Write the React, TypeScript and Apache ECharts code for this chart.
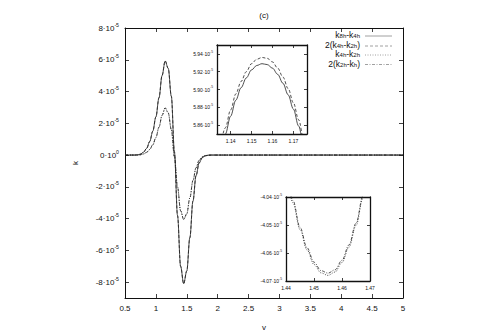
import React, { useEffect, useRef } from 'react';
import * as echarts from 'echarts';

// ---- main panel data (k in units of 1e-5) ----
const vMain = [0.5, 0.55, 0.6, 0.65, 0.7, 0.75, 0.8, 0.85, 0.9, 0.95, 1.0, 1.05, 1.1, 1.15, 1.2, 1.25, 1.3, 1.35, 1.4, 1.45, 1.5, 1.55, 1.6, 1.65, 1.7, 1.75, 1.8, 1.85, 1.9, 1.95, 2.0, 2.5, 3, 3.5, 4, 4.5, 5];
const k8hMinusK4h = [0, 0, 0, 0, 0.01, 0.06, 0.18, 0.42, 0.85, 1.5, 2.4, 3.6, 5.0, 5.92, 5.45, 3.7, 0.2, -3.8, -7.0, -8.1, -7.3, -5.2, -2.9, -1.3, -0.5, -0.17, -0.05, -0.01, 0, 0, 0, 0, 0, 0, 0, 0, 0];
const twoK4hMinusK2h = [0, 0, 0, 0, 0.01, 0.06, 0.18, 0.42, 0.85, 1.5, 2.4, 3.61, 5.01, 5.93, 5.46, 3.7, 0.2, -3.8, -7.0, -8.1, -7.3, -5.2, -2.9, -1.3, -0.5, -0.17, -0.05, -0.01, 0, 0, 0, 0, 0, 0, 0, 0, 0];
const k4hMinusK2h = [0, 0, 0, 0, 0, 0.02, 0.07, 0.17, 0.35, 0.65, 1.1, 1.75, 2.5, 2.97, 2.65, 1.6, -0.1, -2.0, -3.5, -4.06, -3.7, -2.7, -1.6, -0.8, -0.33, -0.12, -0.03, -0.01, 0, 0, 0, 0, 0, 0, 0, 0, 0];
const twoK2hMinusKh = [0, 0, 0, 0, 0, 0.02, 0.07, 0.17, 0.35, 0.65, 1.1, 1.75, 2.5, 2.97, 2.65, 1.6, -0.1, -2.0, -3.5, -4.06, -3.7, -2.7, -1.6, -0.8, -0.33, -0.12, -0.03, -0.01, 0, 0, 0, 0, 0, 0, 0, 0, 0];

const mainXTicks = [0.5, 1, 1.5, 2, 2.5, 3, 3.5, 4, 4.5, 5];
const mainYTicks = [-8, -6, -4, -2, 0, 2, 4, 6, 8];

// ---- inset 1 (peak) ----
const vInset1 = [1.135, 1.1375, 1.14, 1.1425, 1.145, 1.1475, 1.15, 1.1525, 1.155, 1.1575, 1.16, 1.1625, 1.165, 1.1675, 1.17, 1.1725, 1.175, 1.1775];
const ins1K8hMinusK4h = [5.827, 5.85, 5.87, 5.888, 5.902, 5.913, 5.922, 5.927, 5.929, 5.928, 5.924, 5.917, 5.907, 5.894, 5.878, 5.859, 5.836, 5.811];
const ins1TwoK4hMinusK2h = [5.834, 5.857, 5.877, 5.895, 5.909, 5.92, 5.929, 5.934, 5.936, 5.935, 5.931, 5.924, 5.914, 5.901, 5.885, 5.866, 5.843, 5.818];
const ins1XTicks = [1.14, 1.15, 1.16, 1.17];
const ins1YTicks = [5.86, 5.88, 5.9, 5.92, 5.94];

// ---- inset 2 (trough) ----
const vInset2 = [1.44, 1.4425, 1.445, 1.4475, 1.45, 1.4525, 1.455, 1.4575, 1.46, 1.4625, 1.465, 1.4675, 1.47];
const ins2K4hMinusK2h = [-4.0305, -4.0421, -4.0516, -4.0589, -4.0641, -4.0671, -4.068, -4.0668, -4.0634, -4.0579, -4.0502, -4.0404, -4.0285];
const ins2TwoK2hMinusKh = [-4.0297, -4.0413, -4.0508, -4.0581, -4.0633, -4.0663, -4.0672, -4.066, -4.0626, -4.0571, -4.0494, -4.0396, -4.0277];
const ins2XTicks = [1.44, 1.45, 1.46, 1.47];
const ins2YTicks = [-4.07, -4.06, -4.05, -4.04];

const FONT = 'Liberation Sans, Arial, Helvetica, sans-serif';
const INK = '#111';

const DASH = {
  solid: undefined as any,
  dashed: [3, 2],
  dotted: [1, 1.5],
  dashdot: [3, 1.5, 1, 1.5],
};

const pairs = (xs: number[], ys: number[]) => xs.map((x, i) => [x, ys[i]]);

function makeAxes(grid: number, xr: [number, number], yr: [number, number], xt: number[], yt: number[],
  fx: (v: number) => string, fy: (v: number) => string, fs: number, tickLen: number, lw: number, margin: number, extraX: any = {}, extraY: any = {}) {
  const line = { show: true, onZero: false, lineStyle: { color: INK, width: lw } };
  const tick = (vals: number[]) => ({ show: true, inside: true, length: tickLen, customValues: vals, lineStyle: { color: INK, width: 0.8 } });
  const rich = {
    m: { fontSize: fs, lineHeight: fs * 1.5, fontFamily: FONT, color: INK },
    s: { fontSize: fs * 0.65, lineHeight: fs * 0.65, verticalAlign: 'top', fontFamily: FONT, color: INK },
  };
  const xs = [
    { type: 'value', gridIndex: grid, position: 'bottom', min: xr[0], max: xr[1], axisLine: line, axisTick: tick(xt), splitLine: { show: false },
      axisLabel: { show: true, customValues: xt, formatter: fx, fontSize: fs, fontFamily: FONT, color: INK, margin }, ...extraX },
    { type: 'value', gridIndex: grid, position: 'top', min: xr[0], max: xr[1], axisLine: line, axisTick: tick(xt), splitLine: { show: false }, axisLabel: { show: false } },
  ];
  const ys = [
    { type: 'value', gridIndex: grid, position: 'left', min: yr[0], max: yr[1], axisLine: line, axisTick: tick(yt), splitLine: { show: false },
      axisLabel: { show: true, customValues: yt, formatter: fy, rich, margin }, ...extraY },
    { type: 'value', gridIndex: grid, position: 'right', min: yr[0], max: yr[1], axisLine: line, axisTick: tick(yt), splitLine: { show: false }, axisLabel: { show: false } },
  ];
  return { xs, ys };
}

function lineSeries(name: string, data: number[][], xi: number, yi: number, dash: any, width = 0.8, smooth: any = 0.35) {
  return {
    type: 'line', name, data, xAxisIndex: xi, yAxisIndex: yi, showSymbol: false, symbol: 'none', smooth, smoothMonotone: 'x',
    clip: true, lineStyle: { color: '#222', width, type: dash ? dash : 'solid' }, silent: true,
  };
}

const legendNames = [
  '{t|k}{b|8h}{t|-k}{b|4h}',
  '{t|2(k}{b|4h}{t|-k}{b|2h}{t|)}',
  '{t|k}{b|4h}{t|-k}{b|2h}',
  '{t|2(k}{b|2h}{t|-k}{b|h}{t|)}',
];
const legendDash = [DASH.solid, DASH.dashed, DASH.dotted, DASH.dashdot];

export default function App() {
  const ref = useRef<HTMLDivElement>(null);
  useEffect(() => {
    if (!ref.current) return;
    const chart = echarts.init(ref.current, undefined, { renderer: 'svg' });

    const main = makeAxes(0, [0.5, 5], [-9, 8], mainXTicks, mainYTicks,
      (v) => String(v), (v) => (v === 0 ? '{m|0·10}{s|0}' : `{m|${v}·10}{s|-5}`), 8, 4, 1, 6,
      { name: 'v', nameLocation: 'middle', nameGap: 25, nameTextStyle: { fontSize: 8, fontFamily: FONT, color: INK } },
      { name: 'k', nameLocation: 'middle', nameGap: 46, nameRotate: 90, nameTextStyle: { fontSize: 8, fontFamily: FONT, color: INK } });
    const in1 = makeAxes(1, [1.1335, 1.1765], [5.85, 5.95], ins1XTicks, ins1YTicks,
      (v) => v.toFixed(2), (v) => `{m|${v.toFixed(2)}·10}{s|-5}`, 5, 3, 1.3, 4);
    const in2 = makeAxes(2, [1.44, 1.47], [-4.07, -4.04], ins2XTicks, ins2YTicks,
      (v) => v.toFixed(2), (v) => `{m|${v.toFixed(2)}·10}{s|-5}`, 5, 3, 1.3, 4);

    const legendY = [35, 45, 54, 63.5];
    const graphic: any[] = [
      { type: 'text', x: 264, y: 15, style: { text: '(c)', fontSize: 8, fontFamily: FONT, fill: INK, align: 'center', verticalAlign: 'middle' } },
    ];
    legendNames.forEach((t, i) => {
      graphic.push({ type: 'text', x: 360, y: legendY[i], style: {
        text: t, align: 'right', verticalAlign: 'middle', fill: INK,
        rich: {
          t: { fontSize: 8.5, lineHeight: 8, fontFamily: FONT, fill: INK },
          b: { fontSize: 6, lineHeight: 1, verticalAlign: 'bottom', fontFamily: FONT, fill: INK },
        } } });
      graphic.push({ type: 'line', shape: { x1: 365, y1: legendY[i] + 1, x2: 392, y2: legendY[i] + 1 },
        style: { stroke: '#888', lineWidth: 0.8, lineDash: legendDash[i] || null } });
    });

    chart.setOption({
      animation: false,
      backgroundColor: '#fff',
      grid: [
        { left: 125, top: 28, width: 278, height: 278, containLabel: false },
        { left: 217, top: 45, width: 90, height: 89, show: true, backgroundColor: '#fff', borderWidth: 0 },
        { left: 286, top: 197, width: 84, height: 84, show: true, backgroundColor: '#fff', borderWidth: 0 },
      ],
      xAxis: [...main.xs, ...in1.xs, ...in2.xs],
      yAxis: [...main.ys, ...in1.ys, ...in2.ys],
      series: [
        lineSeries('k8h-k4h', pairs(vMain, k8hMinusK4h), 0, 0, DASH.solid),
        lineSeries('2(k4h-k2h)', pairs(vMain, twoK4hMinusK2h), 0, 0, DASH.dashed),
        lineSeries('k4h-k2h', pairs(vMain, k4hMinusK2h), 0, 0, DASH.dotted),
        lineSeries('2(k2h-kh)', pairs(vMain, twoK2hMinusKh), 0, 0, DASH.dashdot),
        lineSeries('inset1 k8h-k4h', pairs(vInset1, ins1K8hMinusK4h), 2, 2, DASH.solid),
        lineSeries('inset1 2(k4h-k2h)', pairs(vInset1, ins1TwoK4hMinusK2h), 2, 2, DASH.dashed),
        lineSeries('inset2 k4h-k2h', pairs(vInset2, ins2K4hMinusK2h), 4, 4, DASH.dotted),
        lineSeries('inset2 2(k2h-kh)', pairs(vInset2, ins2TwoK2hMinusKh), 4, 4, DASH.dashdot),
      ],
      graphic,
    });
    return () => chart.dispose();
  }, []);
  return <div ref={ref} style={{ width: 480, height: 336, position: 'absolute', left: 0, top: 0 }} />;
}
